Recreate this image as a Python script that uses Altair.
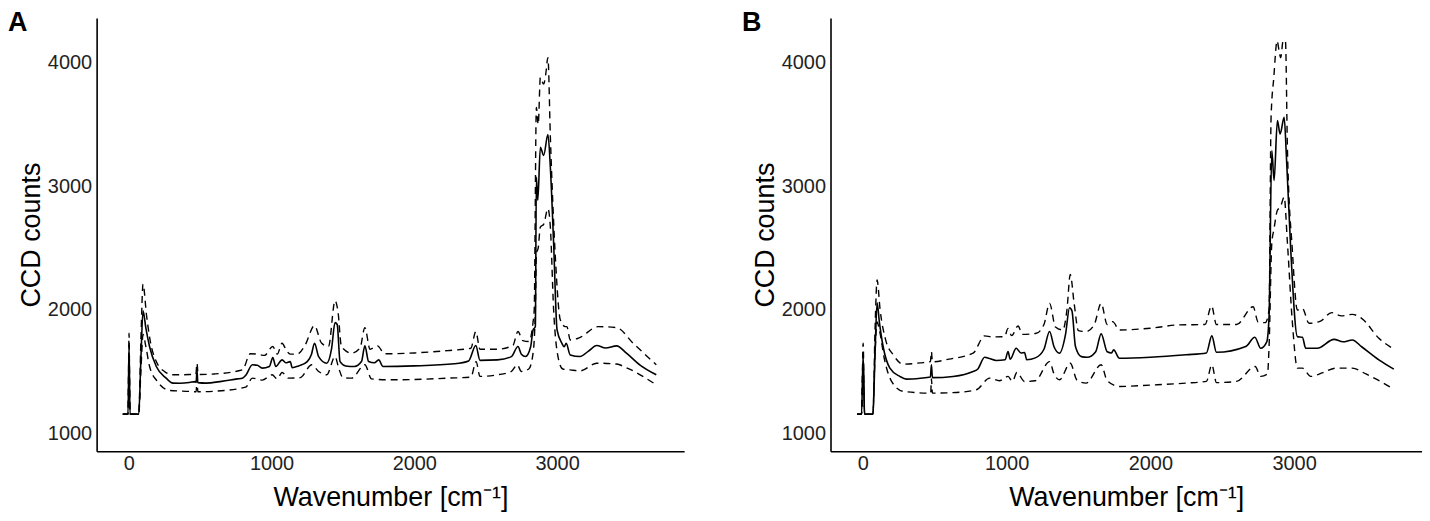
import altair as alt
import pandas as pd

# ---------------- Panel A ----------------
A_mean_x = [-42, -5, 2, 9, 70, 85, 100, 120, 146, 193, 262, 309, 360, 425, 465, 472, 478, 484, 540, 650, 760, 796, 820, 866, 900, 935, 985, 1009, 1030, 1074, 1100, 1131, 1145, 1190, 1250, 1280, 1301, 1330, 1387, 1420, 1445, 1460, 1480, 1520, 1580, 1630, 1654, 1680, 1720, 1751, 1781, 2000, 2280, 2380, 2431, 2460, 2582, 2680, 2726, 2750, 2779, 2815, 2832, 2848, 2855, 2865, 2883, 2906, 2936, 2953, 2976, 3000, 3034, 3050, 3064, 3092, 3161, 3220, 3278, 3340, 3417, 3486, 3579, 3695]
A_mean_y = [1155, 1155, 1715, 1155, 1155, 1600, 1992, 1850, 1700, 1540, 1446, 1406, 1405, 1411, 1418, 1412, 1508, 1410, 1406, 1420, 1440, 1446, 1470, 1554, 1550, 1527, 1540, 1613, 1540, 1594, 1570, 1580, 1530, 1545, 1580, 1640, 1728, 1620, 1567, 1680, 1895, 1880, 1580, 1545, 1540, 1580, 1707, 1580, 1570, 1594, 1540, 1545, 1562, 1585, 1710, 1590, 1594, 1620, 1702, 1640, 1621, 1700, 1836, 1863, 3073, 2885, 3315, 3248, 3417, 3153, 2535, 1836, 1728, 1700, 1728, 1634, 1621, 1665, 1710, 1690, 1707, 1648, 1554, 1473]

A_up_x = [-42, -5, 2, 9, 70, 85, 100, 125, 150, 193, 250, 309, 425, 470, 478, 486, 600, 796, 852, 900, 950, 1009, 1040, 1074, 1100, 1131, 1180, 1236, 1301, 1350, 1399, 1445, 1465, 1490, 1561, 1620, 1654, 1690, 1742, 1793, 2000, 2234, 2396, 2431, 2460, 2582, 2690, 2726, 2760, 2802, 2832, 2840, 2855, 2868, 2883, 2906, 2920, 2936, 2953, 2989, 3023, 3058, 3069, 3092, 3150, 3289, 3417, 3533, 3695]
A_up_y = [1155, 1155, 1809, 1155, 1155, 1750, 2207, 1950, 1750, 1580, 1500, 1473, 1475, 1478, 1567, 1475, 1480, 1513, 1643, 1640, 1630, 1702, 1640, 1728, 1680, 1640, 1640, 1715, 1871, 1730, 1702, 2073, 1990, 1700, 1648, 1690, 1855, 1680, 1707, 1643, 1650, 1669, 1688, 1823, 1680, 1680, 1710, 1823, 1750, 1742, 1900, 2000, 3637, 3500, 3879, 3825, 3900, 4040, 3400, 2403, 1917, 1863, 1863, 1755, 1770, 1863, 1855, 1728, 1554]

A_lo_x = [-42, -5, 2, 9, 70, 85, 100, 120, 146, 200, 285, 425, 472, 478, 484, 600, 819, 866, 935, 1004, 1040, 1074, 1120, 1200, 1282, 1330, 1387, 1445, 1470, 1500, 1561, 1654, 1700, 1816, 2000, 2234, 2396, 2433, 2460, 2582, 2680, 2721, 2750, 2802, 2832, 2848, 2855, 2868, 2883, 2906, 2936, 2953, 2976, 3010, 3040, 3092, 3161, 3278, 3417, 3486, 3695]
A_lo_y = [1155, 1155, 1620, 1155, 1155, 1500, 1800, 1700, 1540, 1420, 1347, 1339, 1336, 1440, 1336, 1340, 1373, 1446, 1430, 1473, 1440, 1492, 1446, 1450, 1554, 1500, 1473, 1621, 1530, 1450, 1446, 1554, 1440, 1433, 1435, 1446, 1454, 1580, 1460, 1473, 1500, 1554, 1500, 1520, 1648, 2000, 2454, 2500, 2669, 2690, 2817, 2669, 1997, 1600, 1520, 1513, 1505, 1567, 1560, 1530, 1392]

# ---------------- Panel B ----------------
B_mean_x = [-40, -9, 2, 12, 70, 85, 99, 115, 141, 188, 257, 303, 400, 470, 477, 484, 628, 767, 800, 847, 880, 928, 990, 1010, 1025, 1067, 1100, 1125, 1140, 1200, 1260, 1299, 1330, 1368, 1410, 1438, 1455, 1479, 1520, 1560, 1620, 1658, 1700, 1730, 1745, 1785, 2000, 2248, 2390, 2428, 2460, 2664, 2727, 2768, 2810, 2826, 2845, 2861, 2884, 2903, 2931, 2947, 2977, 3023, 3058, 3081, 3161, 3278, 3340, 3405, 3470, 3590, 3694]
B_mean_y = [1155, 1155, 1635, 1155, 1155, 1650, 2056, 1900, 1702, 1527, 1460, 1438, 1445, 1455, 1554, 1450, 1460, 1500, 1520, 1615, 1605, 1589, 1595, 1661, 1600, 1688, 1650, 1653, 1595, 1610, 1680, 1823, 1700, 1648, 1800, 2016, 1990, 1702, 1620, 1615, 1660, 1804, 1660, 1650, 1675, 1607, 1615, 1635, 1650, 1788, 1655, 1702, 1777, 1688, 1740, 1944, 3288, 3046, 3530, 3422, 3556, 3234, 2481, 1782, 1777, 1688, 1688, 1760, 1740, 1755, 1700, 1594, 1519]

B_up_x = [-40, -9, 2, 12, 70, 85, 99, 120, 160, 211, 281, 400, 470, 477, 484, 600, 767, 847, 900, 986, 1010, 1035, 1080, 1110, 1206, 1260, 1299, 1340, 1391, 1420, 1443, 1470, 1500, 1553, 1610, 1658, 1700, 1738, 1785, 2000, 2201, 2380, 2426, 2460, 2600, 2715, 2750, 2800, 2826, 2840, 2859, 2882, 2895, 2907, 2924, 2940, 2954, 2988, 3023, 3058, 3104, 3180, 3262, 3330, 3405, 3470, 3590, 3694]
B_up_y = [1155, 1155, 1728, 1155, 1155, 1850, 2240, 2000, 1750, 1635, 1559, 1570, 1580, 1661, 1578, 1600, 1648, 1788, 1780, 1782, 1849, 1790, 1868, 1800, 1809, 1880, 2051, 1860, 1836, 2000, 2285, 2050, 1830, 1823, 1880, 2051, 1880, 1903, 1836, 1850, 1877, 1880, 2030, 1880, 1880, 2024, 1900, 1895, 2000, 3556, 3879, 4175, 4100, 4040, 4175, 4175, 3288, 2481, 1997, 2010, 1890, 1905, 1976, 1950, 1962, 1930, 1769, 1680]

B_lo_x = [-40, -9, 2, 12, 70, 85, 99, 115, 150, 200, 281, 465, 472, 477, 484, 650, 790, 882, 950, 1010, 1040, 1072, 1125, 1200, 1299, 1330, 1368, 1443, 1490, 1553, 1658, 1700, 1785, 2000, 2248, 2390, 2428, 2460, 2600, 2729, 2768, 2815, 2826, 2845, 2860, 2884, 2905, 2931, 2954, 2988, 3023, 3058, 3116, 3200, 3289, 3405, 3500, 3694]
B_lo_y = [1155, 1155, 1560, 1155, 1155, 1650, 1900, 1836, 1600, 1420, 1339, 1325, 1325, 1440, 1325, 1330, 1352, 1446, 1425, 1460, 1420, 1492, 1419, 1425, 1580, 1480, 1433, 1567, 1430, 1406, 1554, 1425, 1379, 1390, 1406, 1420, 1554, 1410, 1420, 1540, 1460, 1480, 1700, 2535, 2650, 2804, 2830, 2911, 2535, 1900, 1527, 1527, 1460, 1490, 1527, 1527, 1480, 1357]

X_TICKS = [0, 1000, 2000, 3000]
Y_TICKS = [1000, 2000, 3000, 4000]
X_DOMAIN = [-225, 3890]
Y_DOMAIN = [855, 4360]
FONT = "Liberation Sans"


def frame(xs, ys, name):
    return pd.DataFrame({"x": xs, "y": ys, "series": name})


def panel(letter, mean_df, band_df, width):
    xenc = alt.X(
        "x:Q",
        scale=alt.Scale(domain=X_DOMAIN, nice=False, zero=False),
        axis=alt.Axis(values=X_TICKS, format="d", title="Wavenumber [cm\u207b\u00b9]",
                      labelPadding=2, titlePadding=12),
    )
    yenc = alt.Y(
        "y:Q",
        scale=alt.Scale(domain=Y_DOMAIN, nice=False, zero=False),
        axis=alt.Axis(values=Y_TICKS, format="d", title="CCD counts", labelPadding=5,
                      titlePadding=2),
    )
    band = alt.Chart(band_df).mark_line(
        color="black", strokeWidth=1.4, strokeDash=[7, 5], interpolate="monotone"
    ).encode(x=xenc, y=yenc, detail="series:N")
    mean = alt.Chart(mean_df).mark_line(
        color="black", strokeWidth=1.6, interpolate="monotone"
    ).encode(x=xenc, y=yenc)
    label = alt.Chart(pd.DataFrame({"t": [letter]})).mark_text(
        font=FONT, fontSize=27, fontWeight="bold", align="left", baseline="alphabetic", color="black"
    ).encode(text="t:N", x=alt.value(-89), y=alt.value(13))
    return alt.layer(band, mean, label).properties(width=width, height=435)


pa = panel("A", frame(A_mean_x, A_mean_y, "mean"),
           pd.concat([frame(A_up_x, A_up_y, "upper"), frame(A_lo_x, A_lo_y, "lower")]), 590)
pb = panel("B", frame(B_mean_x, B_mean_y, "mean"),
           pd.concat([frame(B_up_x, B_up_y, "upper"), frame(B_lo_x, B_lo_y, "lower")]), 594)

chart = alt.hconcat(pa, pb, spacing=58).properties(padding=0).configure_view(
    strokeWidth=0
).configure_axis(
    grid=False, ticks=False, domainColor="black", domainWidth=1.6,
    labelFont=FONT, labelFontSize=20, labelColor="#222222",
    titleFont=FONT, titleFontSize=27, titleFontWeight="normal", titleColor="black",
)

chart.save("out.html", embed_options={"renderer": "svg", "actions": False})
